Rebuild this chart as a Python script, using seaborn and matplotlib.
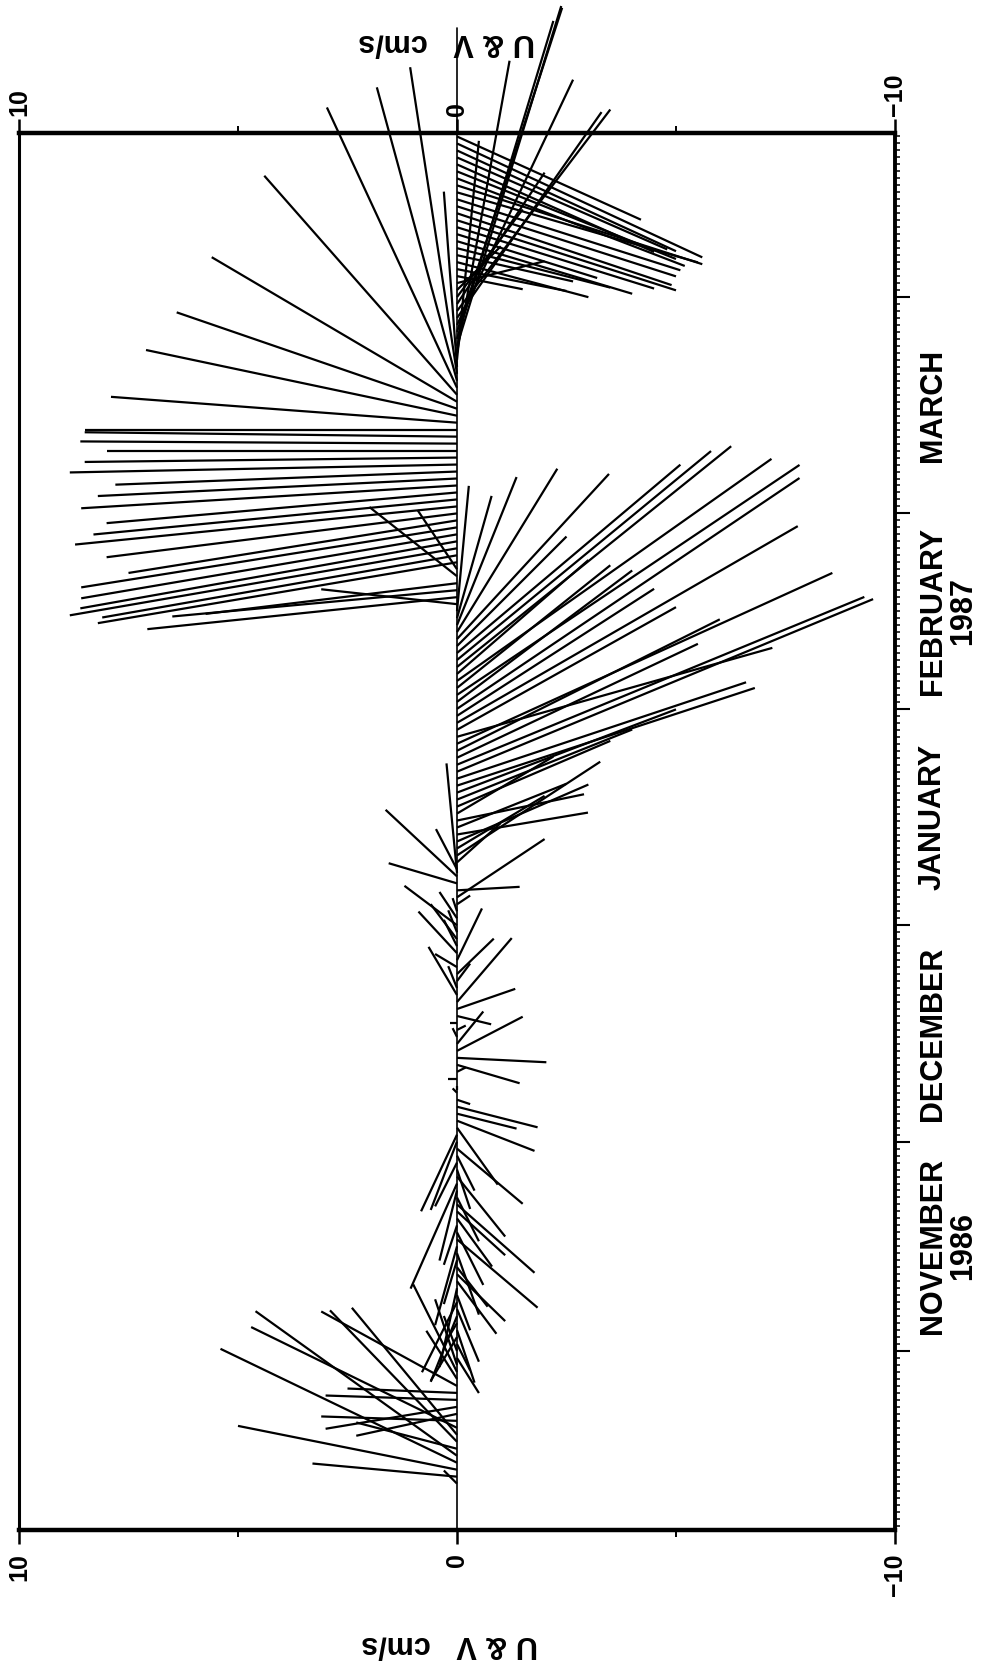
import numpy as np
import pandas as pd
import matplotlib
matplotlib.use("Agg")
import matplotlib.pyplot as plt
import matplotlib.transforms as mtransforms
from matplotlib.ticker import MultipleLocator
import seaborn as sns

# ---------------- data (day counted so that 1 Nov 1986 = 31) ----------------
stick_day = [12, 13, 14, 15, 16, 17, 18, 19, 20, 21, 22, 23, 24, 25, 26, 27, 28, 29, 30,
             31, 32, 33, 34, 35, 36, 37, 38, 39, 40, 41, 42, 43, 44, 45, 46, 47, 48, 49,
             50, 51, 52, 53, 54, 55, 56, 57, 58, 59, 60, 61, 62, 63, 64, 65, 66, 67, 68,
             69, 70, 71, 72, 73, 74, 75, 76, 77, 78, 79, 80, 81, 82, 83, 84, 85, 86, 87,
             88, 89, 90, 91, 92, 93, 94, 95, 96, 97, 98, 99, 99.5, 100, 101, 102, 103,
             104, 105, 106, 107, 108, 109, 110, 111, 112, 113, 114, 115, 116, 117, 118,
             119, 120, 121, 122, 123, 124, 125, 126, 127, 128, 129, 130, 131, 132, 133,
             134, 135, 136, 137, 138, 139, 140, 141, 142, 143, 144, 145, 146, 147, 148,
             149, 150, 151, 152, 153, 154, 155, 156, 157, 158, 159, 160, 161, 162, 163,
             164, 165, 166, 167, 168, 169, 170, 171, 172, 173, 174, 175, 176, 177, 178,
             179, 180, 181, 182, 183, 184, 185, 186, 187, 188, 189, 190, 191, 192, 193,
             194, 195, 196, 197, 198, 199, 200, 201, 202, 203, 204, 205]
stick_v = [0.3, 3.3, 5.0, 5.4, 4.6, 2.3, 2.9, 2.4, 4.7, 3.1, 2.3, 3.0, 3.0, 2.5, 3.1, 0.7,
           1.0, 0.5, -0.5, 0.3, -0.3, 0.6, -0.4, 0.3, 0.6, -0.5, 0.8, -0.3, 0.4, -0.9,
           -1.1, -0.7, 0.3, -0.5, 0.5, -1.84, -0.6, 0.3, -0.8, -1.1, -1.77, -0.5, 0.4,
           1.06, -1.1, -0.3, 0.5, -0.4, -1.5, 0.6, 0.82, -0.93, -1.77, -1.36, -1.84, -0.3,
           0.1, 0.0, 0.2, -0.2, -1.43, -2.04, -1.5, -0.6, 0.1, -0.2, 0.15, -0.78, -1.33,
           -1.25, 0.65, 0.2, -0.3, -0.84, 0.5, -0.57, 0.88, 0.3, 0.6, 0.2, 1.2, 0.4, 0.1,
           -0.3, -2.0, -1.43, 1.56, 1.63, 0.24, 0.48, -1.0, -3.27, -2.0, -3.0, -2.99, -2.5,
           -2.9, -2.2, -3.5, -4.0, -5.0, -6.8, -6.6, -9.5, -9.3, -5.5, -6.0, -8.57, -7.2,
           -5.0, -7.78, -4.5, -7.82, -4.0, -7.82, -3.5, -7.18, -3.0, -6.26, -5.8, -5.1,
           -2.5, -3.47, -2.29, -1.36, -0.79, -0.27, 3.1, 7.07, 6.5, 5.74, 2.0, 0.9, 8.2,
           8.1, 8.84, 8.6, 8.58, 8.58, 7.5, 8.0, 8.72, 8.3, 8.0, 8.58, 8.2, 7.8, 8.84, 8.5,
           8.0, 8.6, 8.5, 8.5, 7.9, 7.1, 6.4, 5.6, 4.4, 2.97, 1.83, 1.07, 0.3, -0.5, -1.2,
           -2.38, -2.2, -2.4, -2.65, -3.3, -3.5, -2.0, -1.5, -1.0, -2.0, -1.5, -2.5, -3.0,
           -2.65, -3.5, -4.0, -3.2, -4.5, -5.0, -4.9, -5.0, -5.1, -5.5, -5.6, -5.2, -5.0,
           -4.5, -4.8, -5.0, -5.6, -4.2]
stick_u = [0.3, 0.3, 1.0, 2.6, 3.3, 0.6, 3.0, 2.9, 2.3, 0.1, -0.5, -0.5, 0.1, 0.1, 1.7, 1.1,
           2.0, 1.5, -0.8, 0.8, -0.6, -1.0, -1.2, -0.5, -1.5, -1.2, -1.6, -0.8, -1.8, -1.2,
           -1.07, -0.9, -1.0, -1.4, -1.8, -1.56, -1.2, -0.9, -1.1, -1.0, -1.56, -1.0, -1.6,
           -2.4, -1.37, -0.9, -1.0, -0.8, -1.26, -1.56, -1.75, -1.3, -0.69, -0.34, -0.47,
           -0.1, 0.1, -0.1, 0.0, 0.1, -0.42, -0.1, 0.78, 0.74, 0.2, 0.1, 0.0, -0.19, 0.46,
           1.46, 1.1, 0.5, 0.4, 0.81, 0.3, 1.18, 0.95, 0.6, 0.8, 0.5, 0.9, 0.6, 0.3, 0.2,
           1.33, 0.08, 0.46, 1.52, 2.5, 0.92, 0.9, 2.14, 1.2, 1.3, 0.5, 1.0, 0.6, 1.3, 1.5,
           1.6, 1.9, 2.23, 2.2, 3.94, 3.83, 2.6, 3.0, 3.9, 2.03, 2.8, 4.49, 2.9, 5.27, 3.0,
           5.25, 2.8, 5.07, 2.6, 5.04, 4.77, 4.3, 2.5, 3.77, 3.73, 3.38, 2.79, 2.86, 0.34,
           -0.73, -0.6, -0.7, 1.58, 1.35, -1.39, -1.42, -1.53, -1.53, -1.46, -1.37, -1.2,
           -1.0, -0.87, -0.8, -0.7, -0.52, -0.4, -0.3, -0.18, -0.1, 0.0, 0.05, 0.1, 0.0,
           0.59, 1.5, 2.2, 3.3, 5.0, 6.4, 6.7, 7.0, 4.0, 5.0, 6.67, 7.76, 7.26, 7.4, 5.6,
           4.7, 4.6, 3.0, 2.0, 1.0, 0.5, -0.3, -0.5, -0.8, -0.6, -0.9, -1.2, -1.0, -1.4,
           -1.6, -1.64, -1.6, -1.62, -1.6, -1.8, -2.0, -2.0, -2.0, -2.1, -2.3, -2.6, -1.9]

velocity_ticks = [10, 0, -10]
velocity_minor_ticks = [5, -5]
velocity_tick_labels = ["10", "0", "\u221210"]
month_starts = [31, 61, 92, 123, 151, 182]
month_label_days = [46, 76.5, 107.5, 137, 166.5]
month_labels = ["NOVEMBER\n1986", "DECEMBER", "JANUARY", "FEBRUARY\n1987", "MARCH"]
axis_label = "U & V   cm/s"

# ---------------- figure ----------------
sns.set_theme(style="white")
plt.rcParams['font.family'] = ['Liberation Sans', 'DejaVu Sans']

W, H = 984, 1667
L, R, T, B = 19, 895, 133, 1530
fig = plt.figure(figsize=(W / 100, H / 100), dpi=100)
ax = fig.add_axes([L / W, 1 - B / H, (R - L) / W, (B - T) / H])
t_lo, t_hi = 5.36, 205.5

# isotropic stick scale: days per cm/s
k = ((R - L) / 20.0) / ((B - T) / (t_hi - t_lo))

rows = []
for i, (d, v, u) in enumerate(zip(stick_day, stick_v, stick_u)):
    rows.append((i, 0.0, d))
    rows.append((i, v, d + u * k))
df = pd.DataFrame(rows, columns=["id", "vel", "day"])
sns.lineplot(data=df, x="vel", y="day", units="id", estimator=None, sort=False,
             color="black", lw=1.6, ax=ax, legend=False)
for ln in ax.lines:
    ln.set_clip_on(False)
    ln.set_solid_capstyle("butt")

ax.set_xlim(10, -10)
ax.set_ylim(t_lo, t_hi)
ax.set_xlabel("")
ax.set_ylabel("")

# zero line, extended above the frame
ax.axvline(0, 0, 1 + (T - 28) / (B - T), color="black", lw=1.2, clip_on=False)

for side, lw in [("top", 3.2), ("bottom", 3.2), ("right", 2.8), ("left", 2.2)]:
    ax.spines[side].set_linewidth(lw)
    ax.spines[side].set_color("black")

ax.set_xticks(velocity_ticks)
ax.set_xticks(velocity_minor_ticks, minor=True)
ax.tick_params(axis="x", which="both", top=True, bottom=True, direction="out",
               labelbottom=False, labeltop=False, color="black")
ax.tick_params(axis="x", which="major", length=10, width=1.8)
ax.tick_params(axis="x", which="minor", length=5, width=1.4)

ax.set_yticks(month_starts)
ax.yaxis.set_minor_locator(MultipleLocator(1))
ax.tick_params(axis="y", which="both", left=False, right=True, direction="out",
               labelleft=False, labelright=False, color="black")
ax.tick_params(axis="y", which="major", length=11, width=1.5)
ax.tick_params(axis="y", which="minor", length=3.5, width=1.1)

tx = mtransforms.blended_transform_factory(ax.transData, fig.transFigure)
for val, lab in zip(velocity_ticks, velocity_tick_labels):
    ax.text(val, 1 - 1553 / H, lab, transform=tx, rotation=90, ha="center", va="top",
            fontsize=18, fontweight="bold", color="black")
    ax.text(val, 1 - 116 / H, lab, transform=tx, rotation=90, ha="center", va="bottom",
            fontsize=18, fontweight="bold", color="black")

ty = mtransforms.blended_transform_factory(fig.transFigure, ax.transData)
for d, lab in zip(month_label_days, month_labels):
    ax.text(918 / W, d, lab, transform=ty, rotation=90, ha="left", va="center",
            multialignment="center", fontsize=22, fontweight="bold", color="black",
            linespacing=1.0)

fig.text(450 / W, 1 - 1644 / H, axis_label, rotation=180, ha="center", va="center",
         fontsize=22, fontweight="bold", color="black")
fig.text(447 / W, 1 - 43 / H, axis_label, rotation=180, ha="center", va="center",
         fontsize=22, fontweight="bold", color="black")

fig.savefig("out.png", dpi=100, facecolor="white")
